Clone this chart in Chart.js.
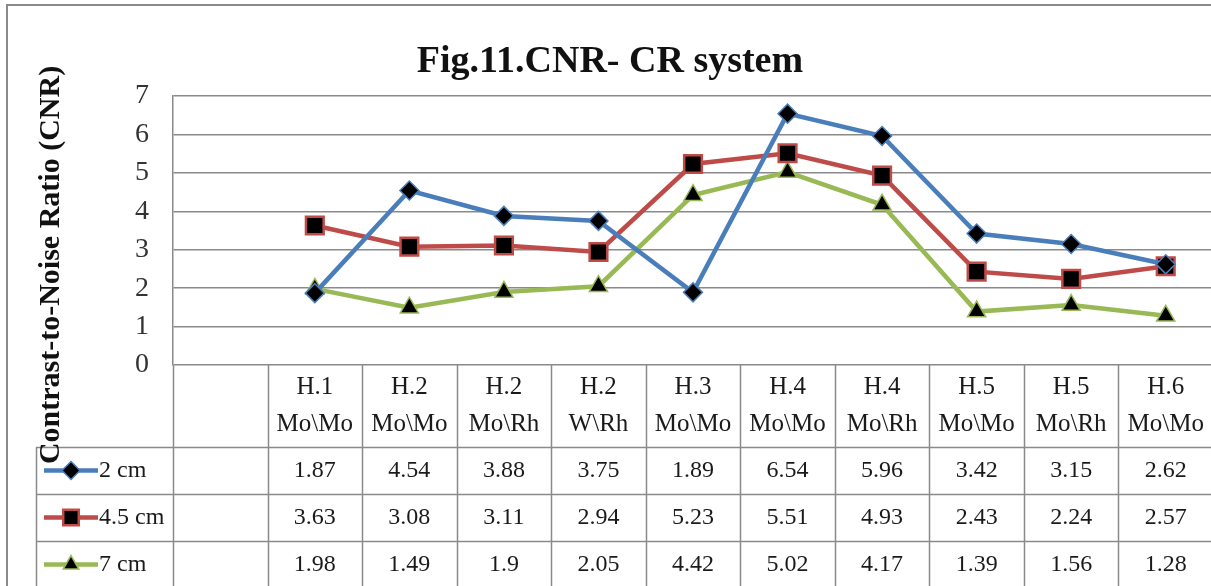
<!DOCTYPE html>
<html>
<head>
<meta charset="utf-8">
<script src="https://cdn.jsdelivr.net/npm/chart.js@4/dist/chart.umd.min.js"></script>
<style>
  html, body { margin: 0; padding: 0; background: #fff; overflow: hidden; }
  #wrap { width: 1211px; height: 586px; position: relative; overflow: hidden; }
</style>
</head>
<body>
<div id="wrap"><canvas id="c" width="1213" height="586"></canvas></div>
<script>
// ---- data ----
const headerTop = ["H.1", "H.2", "H.2", "H.2", "H.3", "H.4", "H.4", "H.5", "H.5", "H.6"];
const headerBottom = ["Mo\\Mo", "Mo\\Mo", "Mo\\Rh", "W\\Rh", "Mo\\Mo", "Mo\\Mo", "Mo\\Rh", "Mo\\Mo", "Mo\\Rh", "Mo\\Mo"];
const series2cm = [1.87, 4.54, 3.88, 3.75, 1.89, 6.54, 5.96, 3.42, 3.15, 2.62];
const series45cm = [3.63, 3.08, 3.11, 2.94, 5.23, 5.51, 4.93, 2.43, 2.24, 2.57];
const series7cm = [1.98, 1.49, 1.9, 2.05, 4.42, 5.02, 4.17, 1.39, 1.56, 1.28];
const seriesNames = ["2 cm", "4.5 cm", "7 cm"];
const yTicks = [0, 1, 2, 3, 4, 5, 6, 7];
const chartTitle = "Fig.11.CNR- CR system";
const yTitle = "Contrast-to-Noise Ratio (CNR)";

// first category column is empty (as in the original table)
const categories = [""].concat(headerTop.map((t, i) => t + " " + headerBottom[i]));

const SERIF = '"Liberation Serif", "DejaVu Serif", serif';
const colors = ["#4A7EBB", "#BE4B48", "#98B954"];
const styles = ["rectRot", "rect", "triangle"];
const radii = [9.5, 12.5, 10.5];

function mk(name, vals, k) {
  return {
    label: name,
    data: [null].concat(vals),
    borderColor: colors[k],
    borderWidth: 4.5,
    pointStyle: styles[k],
    pointRadius: radii[k],
    pointHoverRadius: radii[k],
    pointBackgroundColor: "#000",
    pointBorderColor: colors[k],
    pointBorderWidth: k === 1 ? 2.5 : 1.5,
    tension: 0,
    spanGaps: false
  };
}

function drawMarker(ctx, style, x, y, r, color, bw) {
  ctx.save();
  ctx.beginPath();
  if (style === "rectRot") {
    ctx.moveTo(x, y - r); ctx.lineTo(x + r, y); ctx.lineTo(x, y + r); ctx.lineTo(x - r, y); ctx.closePath();
  } else if (style === "rect") {
    const s = r * Math.SQRT1_2;
    ctx.rect(x - s, y - s, 2 * s, 2 * s);
  } else {
    const a = Math.PI / 6;
    ctx.moveTo(x, y - r);
    ctx.lineTo(x + r * Math.cos(a), y + r * Math.sin(a));
    ctx.lineTo(x - r * Math.cos(a), y + r * Math.sin(a));
    ctx.closePath();
  }
  ctx.fillStyle = "#000";
  ctx.fill();
  ctx.lineWidth = bw;
  ctx.strokeStyle = color;
  ctx.stroke();
  ctx.restore();
}

const decorPlugin = {
  id: "decor",
  beforeDraw(chart) {
    const ctx = chart.ctx;
    ctx.save();
    ctx.fillStyle = "#fff";
    ctx.fillRect(0, 0, chart.width, chart.height);
    // outer chart border
    ctx.strokeStyle = "#8a8a8a";
    ctx.lineWidth = 2;
    ctx.strokeRect(7, 5, chart.width + 10, chart.height + 10);
    ctx.restore();
  },
  afterDraw(chart) {
    const ctx = chart.ctx;
    const xs = chart.scales.x;
    const area = chart.chartArea;
    const colW = xs.getPixelForValue(1) - xs.getPixelForValue(0);
    const top = area.bottom;
    const headBottom = 447;
    const rowH = 47;
    const bottom = chart.height + 5;
    const legendLeft = 36;

    ctx.save();
    // title
    ctx.fillStyle = "#111";
    ctx.font = "bold 38px " + SERIF;
    ctx.textAlign = "center";
    ctx.textBaseline = "middle";
    ctx.fillText(chartTitle, 610, 62);

    // table grid
    ctx.strokeStyle = "#8a8a8a";
    ctx.lineWidth = 1.5;
    ctx.beginPath();
    for (let i = 0; i <= categories.length; i++) {
      const x = Math.round(xs.getPixelForValue(0) - colW / 2 + i * colW) + 0.5;
      ctx.moveTo(x, top); ctx.lineTo(x, bottom);
    }
    ctx.moveTo(legendLeft + 0.5, headBottom); ctx.lineTo(legendLeft + 0.5, bottom);
    for (let r = 0; r < 3; r++) {
      const y = headBottom + r * rowH + 0.5;
      ctx.moveTo(legendLeft, y); ctx.lineTo(chart.width, y);
    }
    ctx.stroke();

    // header labels
    ctx.fillStyle = "#1a1a1a";
    ctx.font = "25px " + SERIF;
    for (let i = 0; i < headerTop.length; i++) {
      const cx = xs.getPixelForValue(i + 1);
      ctx.fillText(headerTop[i], cx, 387);
      ctx.fillText(headerBottom[i], cx, 424);
    }

    // data rows + legend keys
    const rows = [series2cm, series45cm, series7cm];
    ctx.font = "24px " + SERIF;
    rows.forEach((vals, r) => {
      const cy = headBottom + r * rowH + rowH / 2;
      vals.forEach((v, i) => {
        ctx.fillStyle = "#1a1a1a";
        ctx.textAlign = "center";
        ctx.fillText(String(v), xs.getPixelForValue(i + 1), cy);
      });
      // legend key
      ctx.strokeStyle = colors[r];
      ctx.lineWidth = 4.5;
      ctx.beginPath();
      ctx.moveTo(44, cy); ctx.lineTo(98, cy);
      ctx.stroke();
      drawMarker(ctx, styles[r], 71, cy, r === 1 ? 11 : 9, colors[r], r === 1 ? 2.5 : 1.5);
      ctx.fillStyle = "#1a1a1a";
      ctx.textAlign = "left";
      ctx.fillText(seriesNames[r], 99, cy);
    });

    // y-axis title
    ctx.translate(51, 265);
    ctx.rotate(-Math.PI / 2);
    ctx.fillStyle = "#111";
    ctx.font = "bold 30px " + SERIF;
    ctx.textAlign = "center";
    ctx.fillText(yTitle, 0, 0);
    ctx.restore();
  }
};

new Chart(document.getElementById("c"), {
  type: "line",
  data: {
    labels: categories,
    datasets: [mk(seriesNames[0], series2cm, 0), mk(seriesNames[1], series45cm, 1), mk(seriesNames[2], series7cm, 2)]
  },
  options: {
    responsive: false,
    animation: false,
    events: [],
    layout: { autoPadding: false, padding: { top: 96, bottom: 586 - 365, left: 0, right: 0 } },
    plugins: { legend: { display: false }, title: { display: false }, tooltip: { enabled: false } },
    scales: {
      x: {
        type: "category",
        offset: true,
        ticks: { display: false },
        grid: { display: false, drawTicks: false },
        border: { display: false },
        afterFit(s) { s.height = 0; s.paddingLeft = 0; s.paddingRight = 0; }
      },
      y: {
        min: yTicks[0],
        max: yTicks[yTicks.length - 1],
        afterBuildTicks(s) { s.ticks = yTicks.map(v => ({ value: v })); },
        ticks: { color: "#333", font: { family: SERIF, size: 28 }, padding: 24 },
        grid: { color: "#8a8a8a", lineWidth: 1.5, drawTicks: false },
        border: { display: true, color: "#8a8a8a", width: 1.5 },
        afterFit(s) { s.width = 173; }
      }
    }
  },
  plugins: [decorPlugin]
});
</script>
</body>
</html>
